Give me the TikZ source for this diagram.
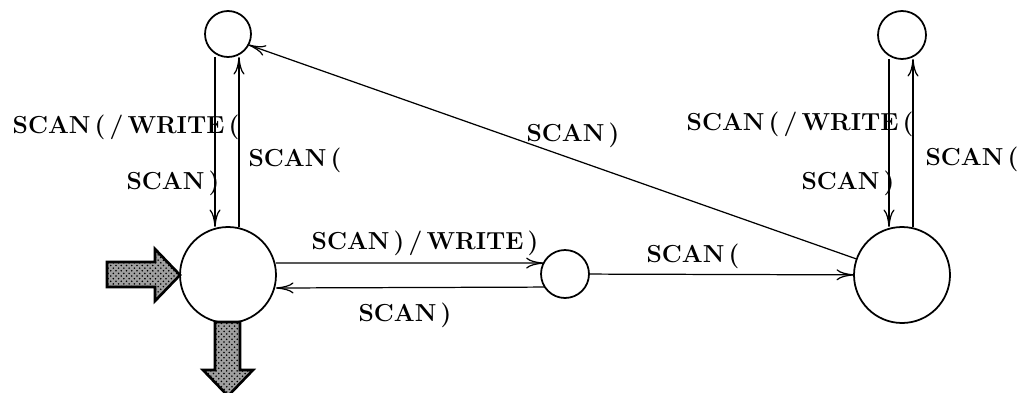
\documentclass[tikz,border=0pt]{standalone}
\usetikzlibrary{arrows.meta,patterns}

\tikzset{
  state/.style={circle,draw,line width=1pt,inner sep=0pt,outer sep=0pt},
  lbl/.style={font=\fontsize{14}{16}\selectfont\bfseries,inner sep=0pt},
  bigarrow/.style={draw,line width=1.5pt,preaction={fill=gray!75},pattern=crosshatch dots,pattern color=black},
}

\begin{document}
\begin{tikzpicture}[x=0.02cm,y=-0.02cm,>={To[length=3.5mm,width=2.2mm]},line width=0.7pt]
  \clip (0,0) rectangle (1026,392);

  \begin{scope}[every node/.style={state}]
    \node[minimum size=0.92cm] (1) at (228,34)  {};
    \node[minimum size=1.92cm] (2) at (228,275) {};
    \node[minimum size=0.96cm] (3) at (565,274) {};
    \node[minimum size=1.92cm] (4) at (902,275) {};
    \node[minimum size=0.96cm] (5) at (902,35)  {};
  \end{scope}

  \begin{scope}[every edge/.style={draw,->}]
    \path ([xshift=-0.26cm]1.south) edge ([xshift=-0.26cm]2.north);
    \path ([xshift=0.22cm]2.north)  edge ([xshift=0.22cm]1.south);
    \path ([yshift=0.24cm]2.east)   edge (3.153);
    \path (3.213)                   edge ([yshift=-0.26cm]2.east);
    \path (3) edge (4);
    \path (4) edge (1.-28);
    \path ([xshift=-0.26cm]5.south) edge ([xshift=-0.26cm]4.north);
    \path ([xshift=0.22cm]4.north)  edge ([xshift=0.22cm]5.south);
  \end{scope}

  \begin{scope}[every node/.style={lbl}]
    \node (l1)  at (126,127) {SCAN\,(\,/\,WRITE\,(};
    \node (l2)  at (173,183) {SCAN\,)};
    \node (l3)  at (295,160) {SCAN\,(};
    \node (l4)  at (573,135) {SCAN\,)};
    \node (l5)  at (425,243) {SCAN\,)\,/\,WRITE\,)};
    \node (l6)  at (405,315) {SCAN\,)};
    \node (l7)  at (693,256) {SCAN\,(};
    \node (l8)  at (800,124) {SCAN\,(\,/\,WRITE\,(};
    \node (l9)  at (848,183) {SCAN\,)};
    \node (l10) at (972,159) {SCAN\,(};
  \end{scope}

  % start and stop markers
  \draw[bigarrow] (107,262) -- (155,262) -- (155,249) -- (2.west)
    -- (155,301) -- (155,287) -- (107,287) -- cycle;
  \draw[bigarrow] (215,322) -- (215,370) -- (203,370) -- (228,396)
    -- (253,370) -- (240,370) -- (240,322) -- cycle;

\end{tikzpicture}
\end{document}
